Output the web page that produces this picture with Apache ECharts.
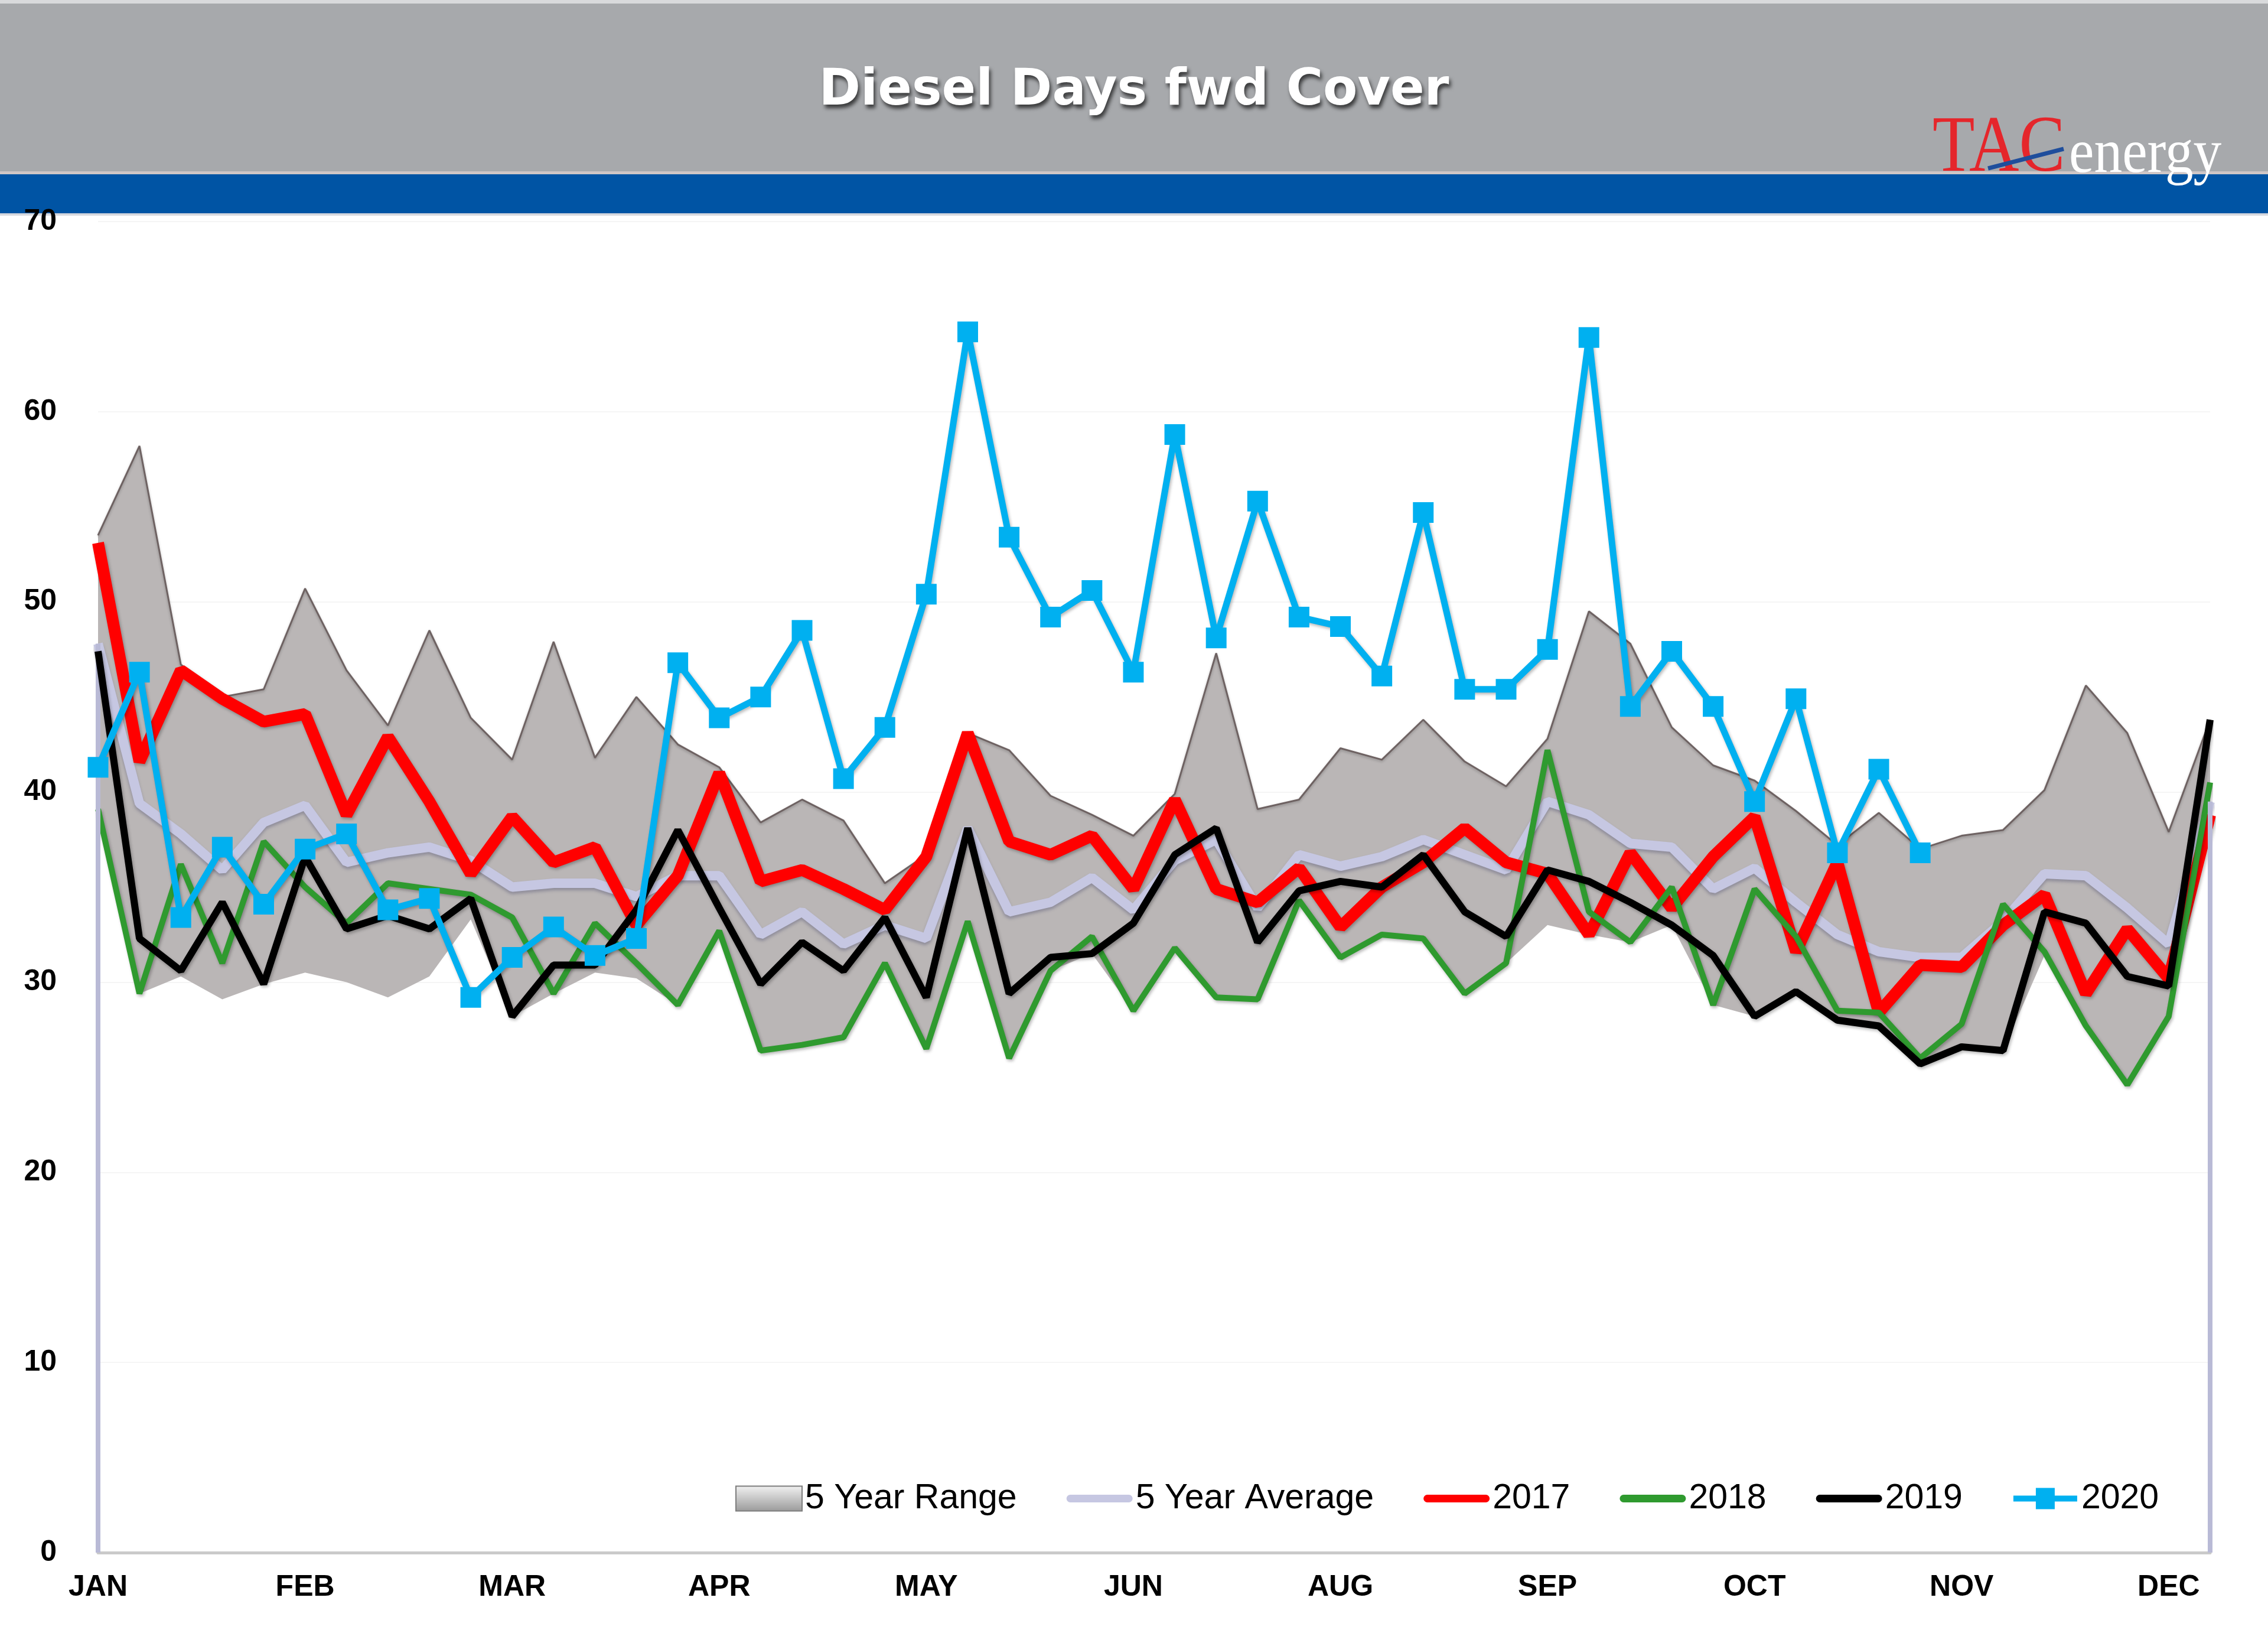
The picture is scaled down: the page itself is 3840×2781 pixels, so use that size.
<!DOCTYPE html>
<html>
<head>
<meta charset="utf-8">
<script src="https://cdn.jsdelivr.net/npm/echarts@6/dist/echarts.min.js"></script>
<style>
html,body{margin:0;padding:0;background:#ffffff;}
#chart{width:3840px;height:2781px;}
</style>
</head>
<body>
<div id="chart"></div>
<script>
// ---- data ----
const weeks = ['W1','W2','W3','W4','W5','W6','W7','W8','W9','W10','W11','W12','W13','W14','W15','W16','W17','W18','W19','W20','W21','W22','W23','W24','W25','W26','W27','W28','W29','W30','W31','W32','W33','W34','W35','W36','W37','W38','W39','W40','W41','W42','W43','W44','W45','W46','W47','W48','W49','W50','W51','W52'];
const monthTicks = ['JAN','FEB','MAR','APR','MAY','JUN','AUG','SEP','OCT','NOV','DEC'];

const rangeLow = [39.1,29.4,30.3,29.1,29.9,30.5,30.0,29.2,30.3,33.3,
                  28.2,29.4,30.5,30.2,28.8,32.7,26.4,26.7,27.1,31.0,
                  26.5,33.2,26.0,30.6,31.5,28.5,31.8,29.2,29.1,34.3,
                  31.3,32.5,32.3,29.4,31.0,33.0,32.5,32.1,33.0,28.8,
                  28.2,29.5,28.0,27.7,25.7,26.6,26.4,31.4,27.7,24.6,28.2,38.8];
const rangeHigh = [53.5,58.2,46.7,45.0,45.4,50.7,46.4,43.5,48.5,43.9,
                   41.7,47.9,41.8,45.0,42.5,41.3,38.4,39.6,38.5,35.2,
                   36.7,43.1,42.2,39.8,38.8,37.7,39.9,47.3,39.1,39.6,
                   42.3,41.7,43.8,41.6,40.3,42.8,49.5,47.8,43.4,41.4,
                   40.6,39.0,37.2,38.9,37.0,37.7,38.0,40.1,45.6,43.1,37.9,43.8];
const avg5 = [47.8,39.4,37.8,35.9,38.4,39.3,36.3,36.8,37.1,36.4,
              35.0,35.2,35.2,34.5,35.6,35.6,32.5,33.7,32.0,33.0,
              32.3,38.1,33.7,34.2,35.5,33.8,36.4,37.5,33.9,36.7,
              36.1,36.6,37.5,36.7,35.9,39.5,38.8,37.3,37.1,34.9,
              36.0,34.2,32.5,31.6,31.3,31.3,33.2,35.7,35.6,33.9,32.0,39.5];
const y2017 = [53.1,41.6,46.4,44.9,43.7,44.1,38.8,42.9,39.5,35.7,
               38.7,36.3,37.1,33.0,35.6,41.0,35.3,35.9,34.9,33.8,
               36.6,43.1,37.4,36.7,37.7,34.9,39.6,34.9,34.2,36.0,
               32.9,35.0,36.3,38.1,36.3,35.7,32.5,36.8,33.9,36.6,
               38.7,31.6,36.3,28.4,30.9,30.8,33.0,34.6,29.4,32.8,30.2,38.8];
const y2018 = [39.1,29.4,36.2,31.0,37.4,35.0,33.1,35.2,34.9,34.6,
               33.4,29.4,33.1,31.0,28.8,32.7,26.4,26.7,27.1,31.0,
               26.5,33.2,26.0,30.6,32.4,28.5,31.8,29.2,29.1,34.3,
               31.3,32.5,32.3,29.4,31.0,42.2,33.7,32.1,35.0,28.8,
               34.9,32.4,28.5,28.4,26.0,27.8,34.1,31.6,27.7,24.6,28.2,40.5];
const y2019 = [47.4,32.3,30.6,34.2,29.9,36.6,32.8,33.5,32.8,34.4,
               28.2,30.9,30.9,33.8,38.0,33.9,29.9,32.1,30.6,33.4,
               29.2,38.1,29.4,31.3,31.5,33.1,36.7,38.1,32.1,34.8,
               35.3,35.0,36.7,33.7,32.4,35.9,35.3,34.2,33.0,31.4,
               28.2,29.5,28.0,27.7,25.7,26.6,26.4,33.7,33.1,30.3,29.8,43.8];
const y2020 = [41.3,46.3,33.4,37.1,34.1,37.0,37.8,33.8,34.4,29.2,
               31.3,32.9,31.4,32.3,46.8,43.9,45.0,48.5,40.7,43.4,
               50.4,64.2,53.4,49.2,50.6,46.3,58.8,48.1,55.3,49.2,
               48.7,46.1,54.7,45.4,45.4,47.5,63.9,44.5,47.4,44.5,
               39.5,44.9,36.8,41.2,36.8];

// band thickness for the stacked range area
const rangeSpan = rangeHigh.map((v, i) => +(v - rangeLow[i]).toFixed(2));

const chart = echarts.init(document.getElementById('chart'), null, {renderer: 'canvas'});

const lineShadow = {shadowColor: 'rgba(0,0,0,0.28)', shadowBlur: 5, shadowOffsetX: 2, shadowOffsetY: 3};

// legend icon shapes (tiny corner dots fix the icon's bounding box)
const barIcon = 'path://M0,0h0.05v0.05h-0.05z M2,14h108a7,7 0 0 1 0,14h-108a7,7 0 0 1 0,-14z M111.95,41.95h0.05v0.05h-0.05z';
const markIcon = 'path://M0,0h0.05v0.05h-0.05z M2,16h108v10h-108z M40,3h32v36h-32z M111.95,41.95h0.05v0.05h-0.05z';

const option = {
  animation: false,
  backgroundColor: '#ffffff',
  title: {
    text: 'Diesel Days fwd Cover',
    left: 'center',
    top: 107,
    textStyle: {
      color: '#ffffff',
      fontFamily: 'DejaVu Sans',
      fontWeight: 'bold',
      fontSize: 85,
      textShadowColor: 'rgba(0,0,0,0.65)',
      textShadowBlur: 6,
      textShadowOffsetX: 3,
      textShadowOffsetY: 6
    }
  },
  graphic: [
    {type: 'rect', z: -10, shape: {x: 0, y: 0, width: 3840, height: 294}, style: {fill: '#a7a9ac'}},
    {type: 'rect', z: -9, shape: {x: 0, y: 0, width: 3840, height: 6}, style: {fill: '#d9dadc'}},
    {type: 'rect', z: -9, shape: {x: 0, y: 290, width: 3840, height: 5}, style: {fill: '#cfc6c6'}},
    {type: 'rect', z: -9, shape: {x: 0, y: 295, width: 3840, height: 66}, style: {fill: '#0054a4'}},
    {type: 'rect', z: -9, shape: {x: 0, y: 361, width: 3840, height: 4}, style: {fill: '#d6d8de'}},
    {type: 'text', z: 20, style: {text: 'TAC', x: 3272, y: 253, font: 'normal 136px "Liberation Serif"', fill: '#e5262b', verticalAlign: 'middle', align: 'left'}, scaleX: 0.86, originX: 3272},
    {type: 'text', z: 20, style: {text: 'energy', x: 3503, y: 263, font: 'normal 105px "Liberation Serif"', fill: '#ffffff', verticalAlign: 'middle', align: 'left'}, scaleX: 0.91, originX: 3503},
    {type: 'line', z: 21, shape: {x1: 3366, y1: 285, x2: 3494, y2: 252}, style: {stroke: '#1f4e9c', lineWidth: 7}}
  ],
  grid: {left: 166, right: 98, top: 375, bottom: 153, containLabel: false, outerBoundsMode: 'none'},
  legend: {
    left: 1240,
    top: 2502,
    itemGap: 84,
    itemWidth: 112,
    itemHeight: 42,
    textStyle: {fontFamily: 'Liberation Sans', fontSize: 59, color: '#000000'},
    data: [
      {name: '5 Year Range', icon: 'rect', itemStyle: {color: {type: 'linear', x: 0, y: 0, x2: 0, y2: 1, colorStops: [{offset: 0, color: '#f2f2f2'}, {offset: 1, color: '#9a9a9a'}]}, borderColor: '#7d7d7d', borderWidth: 2}},
      {name: '5 Year Average', icon: barIcon, itemStyle: {color: '#c6c7e2', borderWidth: 0}},
      {name: '2017', icon: barIcon, itemStyle: {color: '#ff0000', borderWidth: 0}},
      {name: '2018', icon: barIcon, itemStyle: {color: '#2f9a2f', borderWidth: 0}},
      {name: '2019', icon: barIcon, itemStyle: {color: '#000000', borderWidth: 0}},
      {name: '2020', icon: markIcon, itemStyle: {color: '#00b0f0', borderWidth: 0}}
    ]
  },
  xAxis: {
    type: 'category',
    data: weeks,
    boundaryGap: false,
    axisLine: {show: true, lineStyle: {color: '#cacaca', width: 5}},
    axisTick: {show: false},
    axisLabel: {
      interval: 4,
      margin: 34,
      color: '#000000',
      fontFamily: 'Liberation Sans',
      fontWeight: 'bold',
      fontSize: 50,
      formatter: (v, i) => monthTicks[Math.round(i / 5)] || ''
    },
    splitLine: {show: false}
  },
  yAxis: {
    type: 'value',
    min: 0,
    max: 70,
    interval: 10,
    axisLine: {show: false},
    axisTick: {show: false},
    axisLabel: {margin: 70, color: '#000000', fontFamily: 'Liberation Sans', fontWeight: 'bold', fontSize: 50},
    splitLine: {show: true, lineStyle: {color: '#f5f5f5', width: 2}}
  },
  series: [
    {
      name: 'rangeBase', type: 'line', stack: 'range', data: rangeLow,
      symbol: 'none', lineStyle: {opacity: 0, width: 0}, silent: true, z: 1
    },
    {
      name: '5 Year Range', type: 'line', stack: 'range', data: rangeSpan,
      symbol: 'none', z: 1,
      lineStyle: {color: '#6e6262', width: 3, shadowColor: 'rgba(0,0,0,0.25)', shadowBlur: 4, shadowOffsetY: 2},
      itemStyle: {color: '#bab6b6'},
      areaStyle: {color: '#bab6b6', opacity: 1}
    },
    {
      name: '5 Year Average', type: 'line', data: avg5, symbol: 'none', z: 2,
      itemStyle: {color: '#c6c7e2'},
      lineStyle: {color: '#c6c7e2', width: 16, shadowColor: 'rgba(90,90,120,0.45)', shadowBlur: 5, shadowOffsetY: 4},
      markLine: {
        silent: true, symbol: ['none', 'none'], label: {show: false},
        lineStyle: {color: '#b9bad6', width: 8, type: 'solid'},
        data: [
          [{coord: [weeks[0], 0]}, {coord: [weeks[0], avg5[0]]}],
          [{coord: [weeks[51], 0]}, {coord: [weeks[51], avg5[51]]}]
        ]
      }
    },
    {
      name: '2017', type: 'line', data: y2017, symbol: 'none', z: 3,
      itemStyle: {color: '#ff0000'},
      lineStyle: Object.assign({color: '#ff0000', width: 20}, lineShadow)
    },
    {
      name: '2018', type: 'line', data: y2018, symbol: 'none', z: 4,
      itemStyle: {color: '#2f9a2f'},
      lineStyle: Object.assign({color: '#2f9a2f', width: 10}, lineShadow)
    },
    {
      name: '2019', type: 'line', data: y2019, symbol: 'none', z: 5,
      itemStyle: {color: '#000000'},
      lineStyle: Object.assign({color: '#000000', width: 12}, lineShadow)
    },
    {
      name: '2020', type: 'line', data: y2020, symbol: 'rect', symbolSize: 35, z: 6,
      itemStyle: {color: '#00b0f0'},
      lineStyle: Object.assign({color: '#00b0f0', width: 11}, lineShadow)
    }
  ]
};

chart.setOption(option);
</script>
</body>
</html>
